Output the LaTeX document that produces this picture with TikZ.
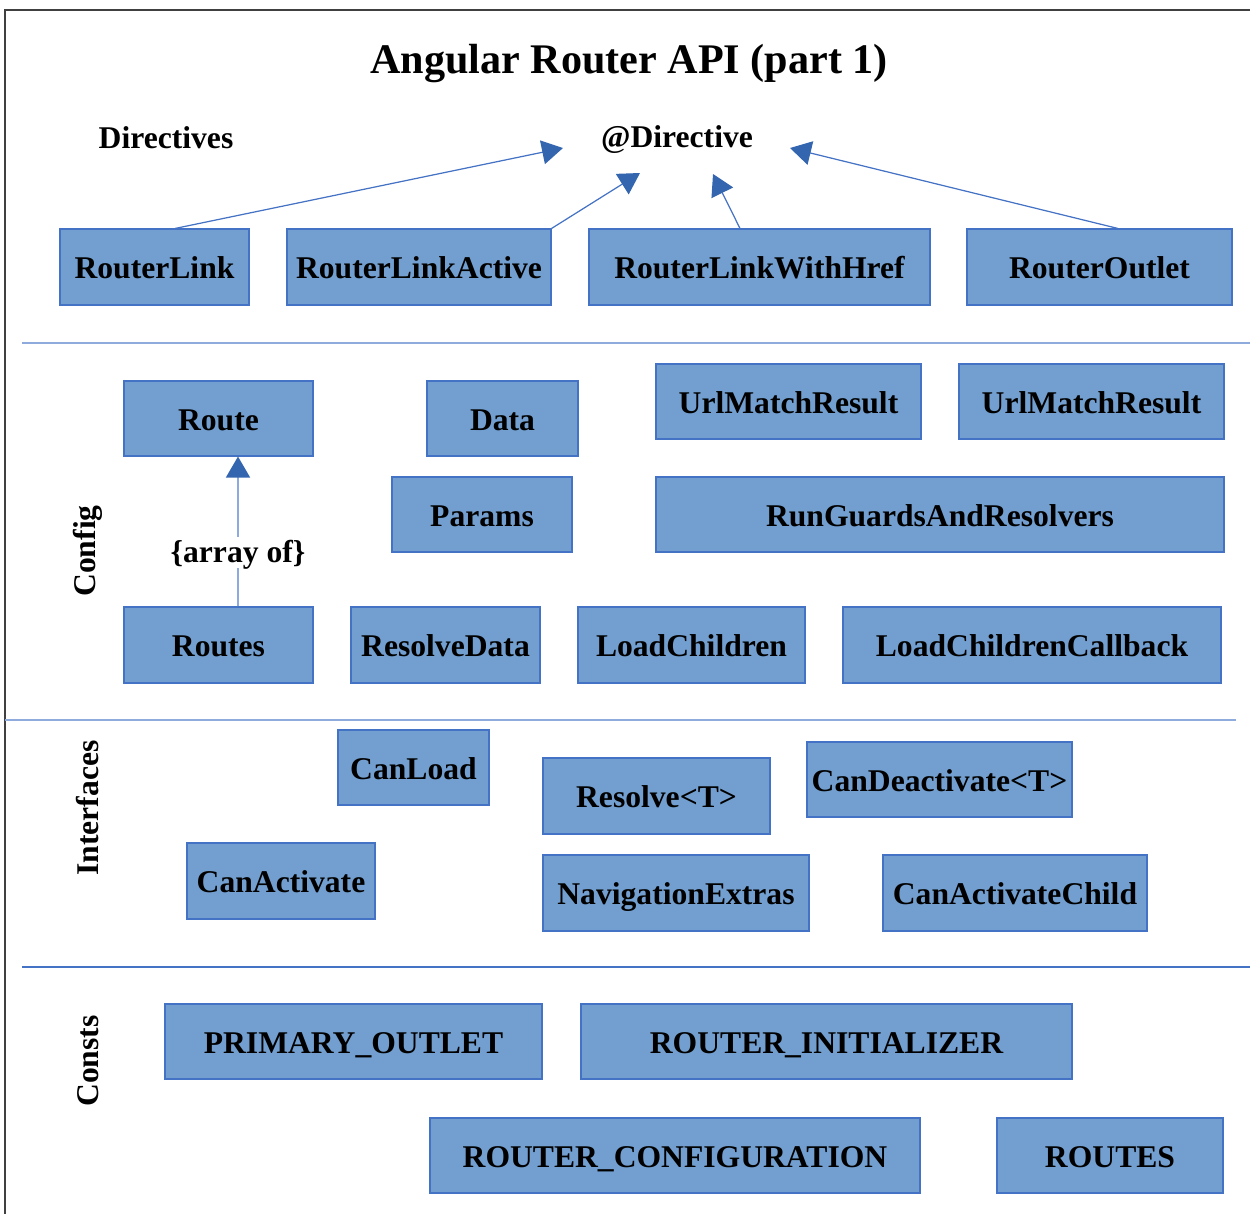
\documentclass[tikz,border=0pt]{standalone}
\usepackage{fontspec}
\setmainfont{Liberation Serif}
\usetikzlibrary{arrows.meta}
\definecolor{boxfill}{RGB}{114,159,207}
\definecolor{boxline}{RGB}{68,114,196}
\definecolor{arrowc}{RGB}{52,102,176}
\definecolor{seplight}{RGB}{143,170,220}
\definecolor{sepdark}{RGB}{68,114,196}
\begin{document}
\begin{tikzpicture}[x=0.02cm,y=-0.02cm,
  box/.style n args={2}{draw=boxline, fill=boxfill, line width=0.6pt,
    minimum width=#1*0.02cm, minimum height=#2*0.02cm, inner sep=0pt,
    font=\fontsize{18}{20}\selectfont\bfseries, text height=13.6pt, text depth=0pt},
  lbl/.style={font=\fontsize{18}{20}\selectfont\bfseries, inner sep=0pt, text height=11.9pt, text depth=0pt},
  sect/.style={font=\fontsize{18}{20}\selectfont\bfseries, inner sep=0pt, rotate=90},
  conn/.style={draw=boxline, line width=0.7pt,
    -{Triangle[length=0.42cm,width=0.48cm,fill=arrowc,color=arrowc]}},
  connlight/.style={draw=seplight, line width=0.9pt,
    -{Triangle[length=0.42cm,width=0.48cm,fill=arrowc,color=arrowc]}}
]
\useasboundingbox (0,0) rectangle (1250,1214);
% frame
\draw[black!75, line width=1pt] (1250,10) -- (5,10) -- (5,1214);
% title
\node[font=\fontsize{24}{28}\selectfont\bfseries, inner sep=0pt] (title) at (629,64) {Angular Router API (part 1)};
% section separators
\draw[seplight, line width=1pt] (22,343) -- (1250,343);
\draw[seplight, line width=1pt] (5,720) -- (1236,720);
\draw[sepdark, line width=1pt] (22,967) -- (1250,967);

% Directives
\node[lbl] (dirs) at (166,138) {Directives};
\node[lbl] (atdir) at (677,137) {@Directive};
\node[box={189}{76}] (rl) at (154.5,267) {RouterLink};
\node[box={264}{76}] (rla) at (419,267) {RouterLinkActive};
\node[box={341}{76}] (rlwh) at (759.5,267) {RouterLinkWithHref};
\node[box={265}{76}] (ro) at (1099.5,267) {RouterOutlet};
\coordinate (t1) at (563,148);
\coordinate (t2) at (640,173);
\coordinate (t3) at (713,174);
\coordinate (t4) at (790,148);
\draw[conn] ([xshift=0.41cm]rl.north) -- (t1);
\draw[conn] (rla.north east) -- (t2);
\draw[conn] ([xshift=-0.39cm]rlwh.north) -- (t3);
\draw[conn] ([xshift=0.37cm]ro.north) -- (t4);

% Config
\node[sect] (cfg) at (88,551) {Config};
\node[box={189}{75}] (route) at (218.5,418.5) {Route};
\node[box={151}{75}] (data) at (502.5,418.5) {Data};
\node[box={265}{75}] (umr1) at (788.5,401.5) {UrlMatchResult};
\node[box={265}{75}] (umr2) at (1091.5,401.5) {UrlMatchResult};
\node[box={180}{75}] (params) at (482,514.5) {Params};
\node[box={568}{75}] (rgar) at (940,514.5) {RunGuardsAndResolvers};
\node[box={189}{76}] (routes) at (218.5,645) {Routes};
\node[box={189}{76}] (rdata) at (445.5,645) {ResolveData};
\node[box={227}{76}] (lch) at (691.5,645) {LoadChildren};
\node[box={378}{76}] (lchc) at (1032,645) {LoadChildrenCallback};
\draw[connlight] ([xshift=0.39cm]routes.north) -- node[pos=0.36, fill=white, lbl, inner sep=3pt] (arr) {\{array of\}} ([xshift=0.39cm]route.south);

% Interfaces
\node[sect] (ifc) at (88,808) {Interfaces};
\node[box={151}{75}] (canload) at (413.5,767.5) {CanLoad};
\node[box={227}{76}] (resolve) at (656.5,796) {Resolve<T>};
\node[box={265}{75}] (candeact) at (939.5,779.5) {CanDeactivate<T>};
\node[box={188}{76}] (canact) at (281,881) {CanActivate};
\node[box={266}{76}] (navext) at (676,893) {NavigationExtras};
\node[box={264}{76}] (canactch) at (1015,893) {CanActivateChild};

% Consts
\node[sect] (consts) at (88,1061) {Consts};
\node[box={377}{75}] (primary) at (353.5,1041.5) {PRIMARY\_OUTLET};
\node[box={491}{75}] (rinit) at (826.5,1041.5) {ROUTER\_INITIALIZER};
\node[box={490}{75}] (rconf) at (675,1155.5) {ROUTER\_CONFIGURATION};
\node[box={226}{75}] (routesc) at (1110,1155.5) {ROUTES};
\end{tikzpicture}
\end{document}
